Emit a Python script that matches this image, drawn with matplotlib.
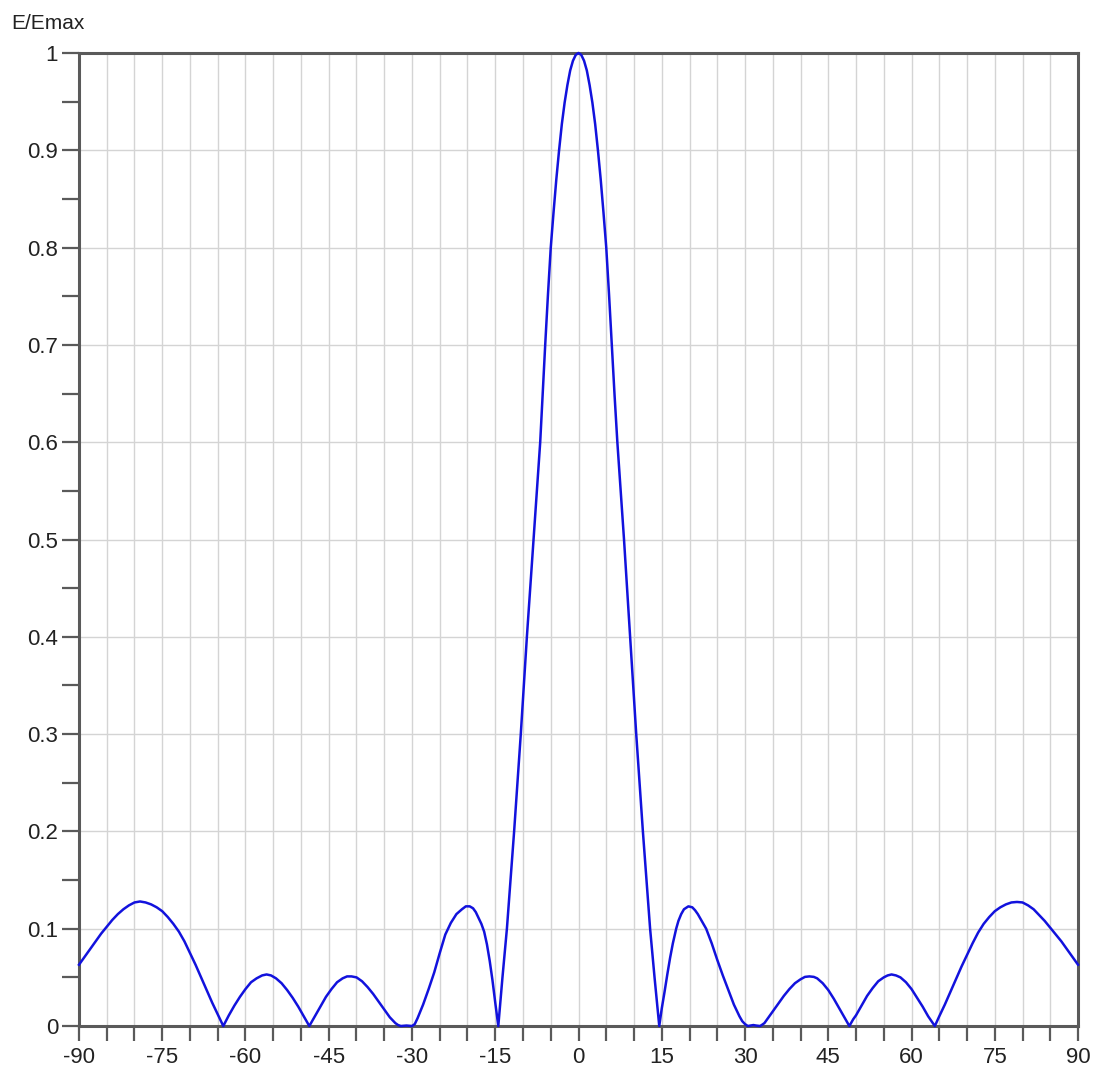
import numpy as np
import matplotlib.pyplot as plt
from matplotlib.ticker import MultipleLocator

# angle (deg) and normalized field E/Emax, left half
angle_left = [-90, -89, -88, -87, -86, -85, -84, -83, -82, -81, -80, -79, -78, -77, -76, -75,
              -74, -73, -72, -71, -70, -69, -68, -67, -66, -65, -64,
              -63, -62, -61, -60, -59, -58, -57, -56.2, -55.4, -54.5, -53.5, -52.5, -51.5, -50.5, -49.5, -48.5,
              -47.5, -46.5, -45.5, -44.5, -43.5, -42.5, -41.7, -40.9, -40, -39, -38, -37, -36, -35, -34, -33,
              -32.5, -32, -31, -30, -29.5, -29, -28, -27, -26, -25, -24, -23, -22, -21, -20.3, -19.6,
              -19, -18.5, -18, -17.5, -17, -16.5, -16, -15.5, -15, -14.45,
              -13.7, -12.9, -11.6, -10.4, -9.3, -8.7, -8.1, -7.5, -6.9, -6.5, -6, -5.5, -5, -4.5, -4,
              -3.5, -3, -2.5, -2, -1.5, -1, -0.5]
e_left = [0.063, 0.071, 0.079, 0.087, 0.095, 0.102, 0.109, 0.115, 0.120, 0.124, 0.127, 0.128, 0.127, 0.125, 0.122, 0.118,
          0.112, 0.105, 0.097, 0.087, 0.075, 0.063, 0.050, 0.037, 0.024, 0.012, 0.0,
          0.011, 0.021, 0.030, 0.038, 0.045, 0.049, 0.052, 0.053, 0.052, 0.049, 0.044, 0.037, 0.029, 0.020, 0.010, 0.0,
          0.010, 0.020, 0.030, 0.038, 0.045, 0.049, 0.051, 0.051, 0.050, 0.046, 0.040, 0.033, 0.025, 0.017, 0.009, 0.003,
          0.001, 0.0, 0.0005, 0.0, 0.002, 0.008, 0.022, 0.038, 0.055, 0.075, 0.094, 0.106, 0.115, 0.120, 0.123, 0.123,
          0.121, 0.117, 0.111, 0.105, 0.097, 0.084, 0.067, 0.047, 0.024, 0.0,
          0.05, 0.10, 0.20, 0.30, 0.40, 0.45, 0.50, 0.55, 0.60, 0.645, 0.70, 0.752, 0.80, 0.836, 0.87,
          0.90, 0.927, 0.949, 0.967, 0.982, 0.992, 0.998]

# right half
angle_right = [0, 0.5, 1, 1.5, 2, 2.5, 3, 3.5, 4, 4.5, 5, 5.5, 6, 6.5, 7, 7.6, 8.2, 8.75, 9.3, 10.4, 11.6, 12.9, 13.7, 14.55,
               15, 15.5, 16, 16.5, 17, 17.6, 18, 18.5, 19, 19.8, 20.5, 21, 21.5, 22, 23, 24, 25, 26, 27, 28, 29,
               29.5, 30, 30.5, 31, 31.5, 32, 32.7,
               33, 33.5, 34, 35, 36, 37, 38, 39, 40, 40.8, 41.6, 42.4, 43, 44, 45, 46, 47, 48, 48.8,
               49.5, 50, 51, 52, 53, 54, 55, 55.7, 56.4, 57.2, 58, 59, 60, 61, 62, 63, 64.2,
               65, 66, 67, 68, 69, 70, 71, 72, 73, 74, 75, 76, 77, 78, 79, 80, 81, 82, 83, 84, 85,
               86, 87, 88, 89, 90]
e_right = [1.0, 0.998, 0.992, 0.982, 0.967, 0.949, 0.927, 0.90, 0.87, 0.836, 0.80, 0.752, 0.70, 0.648, 0.60, 0.55, 0.50, 0.45, 0.40, 0.30, 0.20, 0.10, 0.05, 0.0,
           0.018, 0.035, 0.053, 0.070, 0.085, 0.100, 0.108, 0.115, 0.120, 0.123, 0.122, 0.119, 0.115, 0.110, 0.100, 0.085, 0.068, 0.052, 0.037, 0.022, 0.010,
           0.005, 0.002, 0.0, 0.0005, 0.001, 0.0005, 0.0,
           0.001, 0.003, 0.007, 0.015, 0.023, 0.031, 0.038, 0.044, 0.048, 0.0505, 0.051, 0.0505, 0.049, 0.044, 0.037, 0.028, 0.018, 0.008, 0.0,
           0.007, 0.011, 0.021, 0.031, 0.039, 0.046, 0.050, 0.052, 0.053, 0.052, 0.050, 0.045, 0.038, 0.029, 0.020, 0.010, 0.0,
           0.010, 0.022, 0.035, 0.048, 0.061, 0.073, 0.085, 0.096, 0.105, 0.112, 0.118, 0.122, 0.125, 0.127, 0.1275, 0.127, 0.124, 0.120, 0.114, 0.108, 0.101,
           0.094, 0.087, 0.079, 0.071, 0.063]

x_labels = [-90, -75, -60, -45, -30, -15, 0, 15, 30, 45, 60, 75, 90]
y_ticks = [0, 0.1, 0.2, 0.3, 0.4, 0.5, 0.6, 0.7, 0.8, 0.9, 1]
y_labels = ['0', '0.1', '0.2', '0.3', '0.4', '0.5', '0.6', '0.7', '0.8', '0.9', '1']

plt.rcParams['font.family'] = ['Liberation Sans', 'DejaVu Sans']

fig = plt.figure(figsize=(10.97, 10.68), dpi=100)
ax = fig.add_axes([0.072, 0.0393, 0.9107, 0.9111])

spine_col = '#5a5a5a'
grid_col = '#d4d4d4'

ax.plot(angle_left + angle_right, e_left + e_right, color='#1212dd', linewidth=1.8,
        zorder=5, clip_on=False, solid_joinstyle='round')

ax.set_xlim(-90, 90)
ax.set_ylim(0, 1)

ax.set_xticks(np.arange(-90, 91, 5))
ax.set_xticklabels([str(v) if v in x_labels else '' for v in range(-90, 91, 5)])
ax.set_yticks(y_ticks)
ax.set_yticklabels(y_labels)
ax.yaxis.set_minor_locator(MultipleLocator(0.05))

ax.grid(True, which='major', color=grid_col, linewidth=1.0)
ax.set_axisbelow(True)

ax.tick_params(axis='both', which='both', direction='out', color=spine_col,
               width=1.6, labelsize=16, labelcolor='#222222')
ax.tick_params(axis='x', which='major', length=11, pad=4)
ax.tick_params(axis='y', which='major', length=12, pad=3)
ax.tick_params(axis='y', which='minor', length=12)

for s in ax.spines.values():
    s.set_color(spine_col)
    s.set_linewidth(2.2)

fig.text(0.010, 0.978, 'E/Emax', fontsize=15, color='#222222', ha='left', va='center')

fig.savefig('out.png', dpi=100)
